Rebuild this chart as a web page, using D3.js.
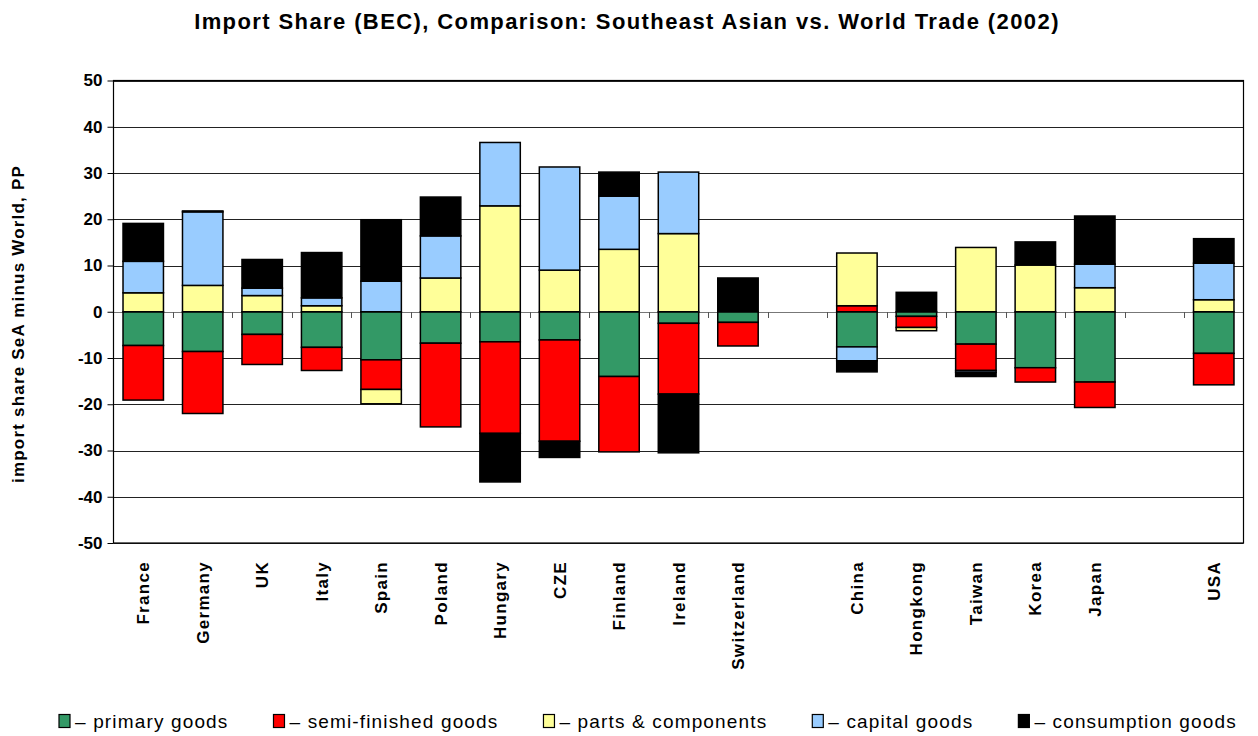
<!DOCTYPE html>
<html>
<head>
<meta charset="utf-8">
<script src="https://cdn.jsdelivr.net/npm/d3@7"></script>
<style>
  body { margin: 0; background: #fff; }
  svg { display: block; font-family: Arial, "Liberation Sans", sans-serif; }
</style>
</head>
<body>
<svg id="chart" width="1258" height="736"></svg>
<script>
// ---- data ----
const categories = ["France","Germany","UK","Italy","Spain","Poland","Hungary","CZE","Finland","Ireland","Switzerland","",
                    "China","Hongkong","Taiwan","Korea","Japan","","USA"];
const seriesNames = ["– primary goods","– semi-finished goods","– parts & components","– capital goods","– consumption goods"];
const primary     = [-7.3, -8.6, -4.9, -7.7, -10.4, -6.8, -6.5, -6.1, -14.0, -2.5, -2.3, null, -7.6, -1.0, -7.0, -12.1, -15.2, null, -9.0];
const semi        = [-11.8, -13.4, -6.5, -5.0, -6.4, -18.1, -19.8, -21.9, -16.3, -15.3, -5.1, null, 1.3, -2.4, -5.7, -3.1, -5.5, null, -6.8];
const parts       = [4.1, 5.7, 3.5, 1.3, -3.1, 7.3, 22.9, 9.0, 13.5, 16.9, 0, null, 11.4, -0.7, 13.9, 10.1, 5.2, null, 2.6];
const capital     = [6.8, 15.9, 1.6, 1.7, 6.6, 9.1, 13.7, 22.3, 11.5, 13.3, 0, null, -3.0, 0, -0.4, 0, 5.1, null, 7.9];
const consumption = [8.2, 0.2, 6.2, 9.8, 13.3, 8.4, -10.5, -3.5, 5.2, -12.7, 7.3, null, -2.4, 4.2, -0.9, 5.0, 10.4, null, 5.3];
const yTicks = [50, 40, 30, 20, 10, 0, -10, -20, -30, -40, -50];
const colors = ["#339966", "#FF0000", "#FFFF99", "#99CCFF", "#000000"];

const title = "Import Share (BEC), Comparison: Southeast Asian vs. World Trade (2002)";
const yTitle = "import share SeA minus World, PP";

// ---- build table ----
const keys = categories.map((c, i) => "k" + i);
const seriesArrays = [primary, semi, parts, capital, consumption];
const table = keys.map((k, i) => {
  const row = { key: k, label: categories[i] };
  seriesArrays.forEach((arr, s) => row["s" + s] = arr[i] == null ? 0 : arr[i]);
  return row;
});

const svg = d3.select("#chart");
const margin = { left: 113.5, right: 1243.5, top: 80.5, bottom: 543 };

const x = d3.scaleBand().domain(keys).range([margin.left, margin.right]).paddingInner(0.32).paddingOuter(0.16);
const y = d3.scaleLinear().domain([-50, 50]).range([margin.bottom, margin.top]);

// gridlines
svg.append("g").selectAll("line").data(yTicks.filter(t => t !== 0)).join("line")
  .attr("x1", margin.left).attr("x2", margin.right)
  .attr("y1", d => Math.round(y(d)) + 0.5).attr("y2", d => Math.round(y(d)) + 0.5)
  .attr("stroke", "#222").attr("stroke-width", 1);

// zero line
svg.append("line")
  .attr("x1", margin.left).attr("x2", margin.right)
  .attr("y1", Math.round(y(0)) + 0.5).attr("y2", Math.round(y(0)) + 0.5)
  .attr("stroke", "#777").attr("stroke-width", 1.2);

// category ticks at zero line (between slots)
const step = x.step();
const boundaries = d3.range(1, keys.length).map(i => margin.left + i * step);
svg.append("g").selectAll("line").data(boundaries).join("line")
  .attr("x1", d => Math.round(d) + 0.5).attr("x2", d => Math.round(d) + 0.5)
  .attr("y1", Math.round(y(0))).attr("y2", Math.round(y(0)) + 6)
  .attr("stroke", "#555").attr("stroke-width", 1);

// stacked bars
const stack = d3.stack().keys(["s0","s1","s2","s3","s4"]).offset(d3.stackOffsetDiverging);
const stacked = stack(table);
const barG = svg.append("g");
stacked.forEach((layer, s) => {
  barG.append("g").selectAll("rect")
    .data(layer.filter(d => d[1] - d[0] !== 0))
    .join("rect")
    .attr("x", d => x(d.data.key))
    .attr("width", x.bandwidth())
    .attr("y", d => y(d[1]))
    .attr("height", d => y(d[0]) - y(d[1]))
    .attr("fill", colors[s])
    .attr("stroke", "#000")
    .attr("stroke-width", 1.5);
});

// plot border
svg.append("rect")
  .attr("x", margin.left).attr("y", margin.top)
  .attr("width", margin.right - margin.left).attr("height", margin.bottom - margin.top)
  .attr("fill", "none").attr("stroke", "#000").attr("stroke-width", 1.2);

// y axis
const yAxis = d3.axisLeft(y).tickValues(yTicks).tickSize(6).tickPadding(5).tickFormat(d => String(d));
const yg = svg.append("g").attr("transform", `translate(${margin.left},0)`).call(yAxis);
yg.select(".domain").remove();
yg.selectAll("text").attr("font-size", 17).attr("font-weight", "bold").attr("fill", "#000")
  .attr("font-family", "Arial, 'Liberation Sans', sans-serif");
yg.selectAll("line").attr("stroke", "#000");

// x labels
svg.append("g").selectAll("text").data(table.filter(d => d.label)).join("text")
  .attr("transform", d => `translate(${x(d.key) + x.bandwidth() / 2 + 6},561) rotate(-90)`)
  .attr("text-anchor", "end")
  .attr("font-size", 17).attr("font-weight", "bold").attr("fill", "#000")
  .attr("letter-spacing", 1.3)
  .text(d => d.label);

// title
svg.append("text").attr("x", 627).attr("y", 29).attr("text-anchor", "middle")
  .attr("font-size", 22).attr("font-weight", "bold").attr("letter-spacing", 1.4).text(title);

// y title
svg.append("text").attr("transform", "translate(24,324) rotate(-90)").attr("text-anchor", "middle")
  .attr("font-size", 17).attr("font-weight", "bold").attr("letter-spacing", 1.2).text(yTitle);

// legend
const lg = svg.append("g");
let lx = 59;
seriesNames.forEach((name, i) => {
  lg.append("rect").attr("x", lx).attr("y", 714.5).attr("width", 11).attr("height", 13)
    .attr("fill", colors[i]).attr("stroke", "#000").attr("stroke-width", 1.2);
  const t = lg.append("text").attr("x", lx + 16).attr("y", 728).attr("font-size", 19)
    .attr("letter-spacing", 1.15).text(name);
  lx += 16 + t.node().getComputedTextLength() + 45;
});
</script>
</body>
</html>
